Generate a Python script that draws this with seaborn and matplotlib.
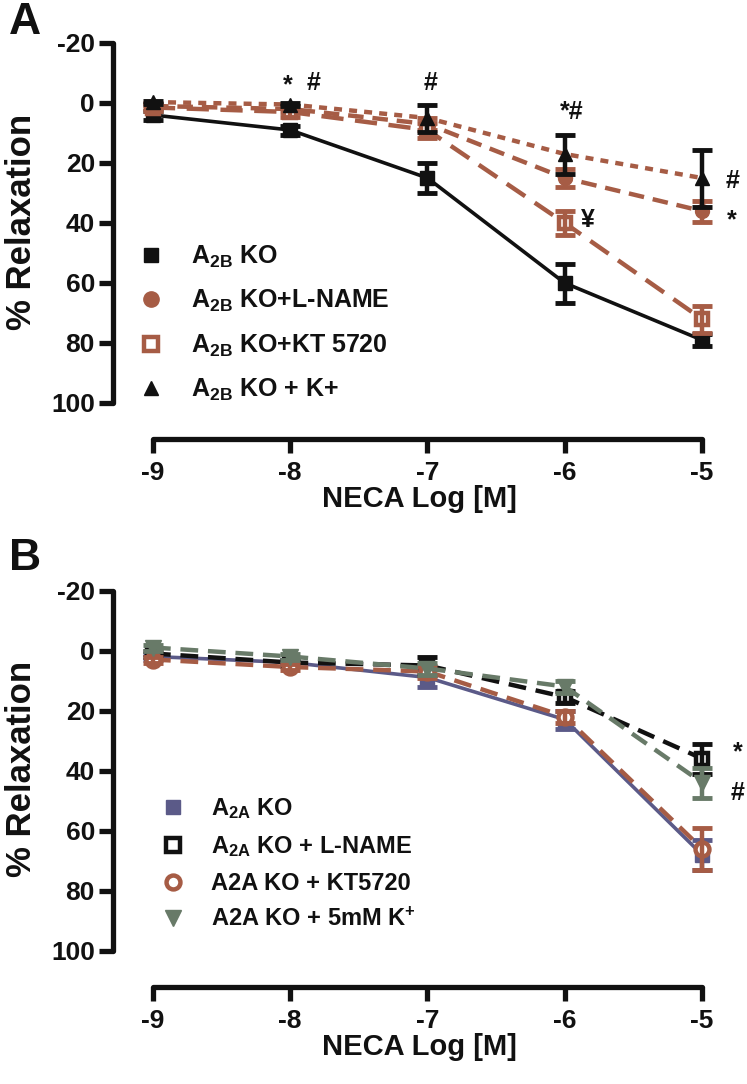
import numpy as np
import pandas as pd
import matplotlib
matplotlib.use("Agg")
import matplotlib.pyplot as plt
from matplotlib.lines import Line2D
from matplotlib import font_manager
import seaborn as sns

# ---------------- data ----------------
x_log = [-9, -8, -7, -6, -5]
x_ticks = [-9, -8, -7, -6, -5]
y_ticks = [-20, 0, 20, 40, 60, 80, 100]

# Panel A
a2b_ko = [4, 9, 25, 60, 79]
a2b_ko_err = [1.5, 1.5, 5, 6.5, 2]
a2b_lname = [1, 2, 7, 25, 36]
a2b_lname_err = [1, 1, 2, 3, 3.5]
a2b_kt = [1.5, 3, 9, 40, 72]
a2b_kt_err = [1, 1.5, 2.5, 4, 4.5]
a2b_k = [-0.3, 0.5, 5, 17, 25]
a2b_k_err = [0.5, 0.5, 4.5, 6.5, 9.5]
labels_a = [r"A$_{\mathbf{2B}}$ KO", r"A$_{\mathbf{2B}}$ KO+L-NAME",
            r"A$_{\mathbf{2B}}$ KO+KT 5720", r"A$_{\mathbf{2B}}$ KO + K+"]

# Panel B
a2a_ko = [2, 4, 9, 23, 68]
a2a_ko_err = [1, 1, 3, 3, 5]
a2a_lname = [1, 4, 5, 15.5, 36]
a2a_lname_err = [1, 1, 3, 2, 5]
a2a_kt = [3, 5.5, 7, 22, 66]
a2a_kt_err = [1, 1, 2, 2, 7]
a2a_k = [-1, 2, 6, 12, 44]
a2a_k_err = [1, 1, 2, 2, 5]
labels_b = [r"A$_{\mathbf{2A}}$ KO", r"A$_{\mathbf{2A}}$ KO + L-NAME",
            "A2A KO + KT5720", r"A2A KO + 5mM K$^{\mathbf{+}}$"]

# ---------------- style ----------------
sns.set_theme(style="ticks")
names = {f.name for f in font_manager.fontManager.ttflist}
narrow = "Liberation Sans Narrow" if "Liberation Sans Narrow" in names else "Liberation Sans"
plt.rcParams["font.family"] = ["Liberation Sans", "DejaVu Sans"]
plt.rcParams["font.weight"] = "bold"
plt.rcParams["mathtext.fontset"] = "custom"
plt.rcParams["mathtext.rm"] = "Liberation Sans:bold"
plt.rcParams["mathtext.bf"] = "Liberation Sans:bold"
plt.rcParams["mathtext.it"] = "Liberation Sans:bold"

BROWN = "#a65c45"
PURPLE = "#5b5a88"
GREEN = "#687a68"
BLACK = "#111111"

W, H = 747, 1084
fig = plt.figure(figsize=(W / 100, H / 100), dpi=100)

def make_ax(top_px):
    # top_px: pixel row for value -22, bottom for 112
    bottom_px = top_px + 402
    left_px, right_px = 113, 725
    ax = fig.add_axes([left_px / W, 1 - bottom_px / H, (right_px - left_px) / W, 402 / H])
    ax.set_xlim(-9.291, -4.832)
    ax.set_ylim(112, -22)
    for s in ["top", "right"]:
        ax.spines[s].set_visible(False)
    ax.spines["left"].set_bounds(-20, 100)
    ax.spines["bottom"].set_bounds(-9, -5)
    for s in ["left", "bottom"]:
        ax.spines[s].set_linewidth(3.8)
        ax.spines[s].set_color(BLACK)
        ax.spines[s].set_capstyle("round")
    ax.set_xticks(x_ticks)
    ax.set_xticklabels([str(t) for t in x_ticks])
    ax.set_yticks(y_ticks)
    ax.set_yticklabels([str(t) for t in y_ticks])
    ax.tick_params(axis="y", length=10, width=3.8, pad=3, color=BLACK)
    ax.tick_params(axis="x", length=10, width=3.8, pad=6, color=BLACK)
    for lab in ax.get_xticklabels() + ax.get_yticklabels():
        lab.set_fontfamily(narrow)
        lab.set_fontsize(19)
        lab.set_fontweight("bold")
        lab.set_color(BLACK)
    ax.set_xlabel("NECA Log [M]", fontsize=21, fontweight="bold",
                  fontfamily=narrow, labelpad=0, color=BLACK)
    ax.set_ylabel("% Relaxation", fontsize=25, fontweight="bold", color=BLACK)
    ax.yaxis.set_label_coords(-0.122, 0.54)
    ax.grid(False)
    ax.set_facecolor("white")
    return ax

def series(ax, y, err, color, ls, lw, marker, ms, mfc, mec, mew, ecolor, z):
    sns.lineplot(x=x_log, y=y, ax=ax, color=color, linestyle=ls, linewidth=lw,
                 marker=marker, markersize=ms, markerfacecolor=mfc,
                 markeredgecolor=mec, markeredgewidth=mew, errorbar=None,
                 legend=False, zorder=z)
    ax.errorbar(x_log, y, yerr=err, fmt="none", ecolor=ecolor, elinewidth=3.2,
                capsize=7, capthick=3.5, zorder=z + 0.5)

# ---------------- Panel A ----------------
axA = make_ax(37)
series(axA, a2b_ko, a2b_ko_err, BLACK, "-", 2.6, "s", 10, BLACK, BLACK, 1, BLACK, 3)
series(axA, a2b_lname, a2b_lname_err, BROWN, (0, (3.5, 2.0)), 3.2, "o", 10, BROWN, BROWN, 1, BROWN, 4)
series(axA, a2b_kt, a2b_kt_err, BROWN, (0, (5.0, 2.6)), 3.2, "s", 9, "white", BROWN, 3.2, BROWN, 5)
series(axA, a2b_k, a2b_k_err, BROWN, (0, (1.8, 1.6)), 3.2, "^", 10, BLACK, BLACK, 1, BLACK, 6)
handles_a = [
    Line2D([], [], ls="none", marker="s", ms=10, mfc=BLACK, mec=BLACK),
    Line2D([], [], ls="none", marker="o", ms=11, mfc=BROWN, mec=BROWN),
    Line2D([], [], ls="none", marker="s", ms=10, mfc="white", mec=BROWN, mew=3.2),
    Line2D([], [], ls="none", marker="^", ms=10, mfc=BLACK, mec=BLACK),
]
legA = axA.legend(handles_a, labels_a, loc="upper left", bbox_to_anchor=(0.025, 0.51),
                  frameon=False, fontsize=18, handlelength=1.0, handletextpad=1.1,
                  labelspacing=0.72, borderaxespad=0)
for t in legA.get_texts():
    t.set_fontweight("bold"); t.set_color(BLACK)

annA = [(-8.02, -6, "*"), (-7.83, -6.5, "#"), (-6.98, -6.5, "#"),
        (-5.95, 3, "*#"), (-5.83, 39, "¥"), (-4.78, 26, "#"), (-4.78, 39, "*")]
for xx, yy, s in annA:
    axA.text(xx, yy, s, fontsize=18, fontweight="bold", ha="center", va="center",
             color=BLACK, fontfamily=narrow)

fig.text(25 / W, 1 - 22 / H, "A", fontsize=32, fontweight="bold", ha="center", va="center", color=BLACK)

# ---------------- Panel B ----------------
axB = make_ax(584.5)
series(axB, a2a_ko, a2a_ko_err, PURPLE, "-", 2.6, "s", 10, PURPLE, PURPLE, 1, PURPLE, 3)
series(axB, a2a_lname, a2a_lname_err, BLACK, (0, (4.0, 2.2)), 3.2, "s", 9, "white", BLACK, 3.2, BLACK, 4)
series(axB, a2a_kt, a2a_kt_err, BROWN, (0, (4.0, 2.2)), 3.2, "o", 10, "white", BROWN, 3.2, BROWN, 5)
series(axB, a2a_k, a2a_k_err, GREEN, (0, (4.0, 2.2)), 3.2, "v", 12, GREEN, GREEN, 1, GREEN, 6)
handles_b = [
    Line2D([], [], ls="none", marker="s", ms=10, mfc=PURPLE, mec=PURPLE),
    Line2D([], [], ls="none", marker="s", ms=10, mfc="white", mec=BLACK, mew=3.2),
    Line2D([], [], ls="none", marker="o", ms=10, mfc="white", mec=BROWN, mew=3.2),
    Line2D([], [], ls="none", marker="v", ms=12, mfc=GREEN, mec=GREEN),
]
legB = axB.legend(handles_b, labels_b, loc="upper left", bbox_to_anchor=(0.063, 0.497),
                  frameon=False, fontsize=17, handlelength=1.0, handletextpad=1.1,
                  labelspacing=0.55, borderaxespad=0)
for t in legB.get_texts():
    t.set_fontweight("bold"); t.set_color(BLACK)

annB = [(-4.74, 34, "*"), (-4.74, 47.5, "#")]
for xx, yy, s in annB:
    axB.text(xx, yy, s, fontsize=18, fontweight="bold", ha="center", va="center",
             color=BLACK, fontfamily=narrow)

fig.text(25 / W, 1 - 558 / H, "B", fontsize=32, fontweight="bold", ha="center", va="center", color=BLACK)

fig.savefig("out.png", dpi=100, facecolor="white")
